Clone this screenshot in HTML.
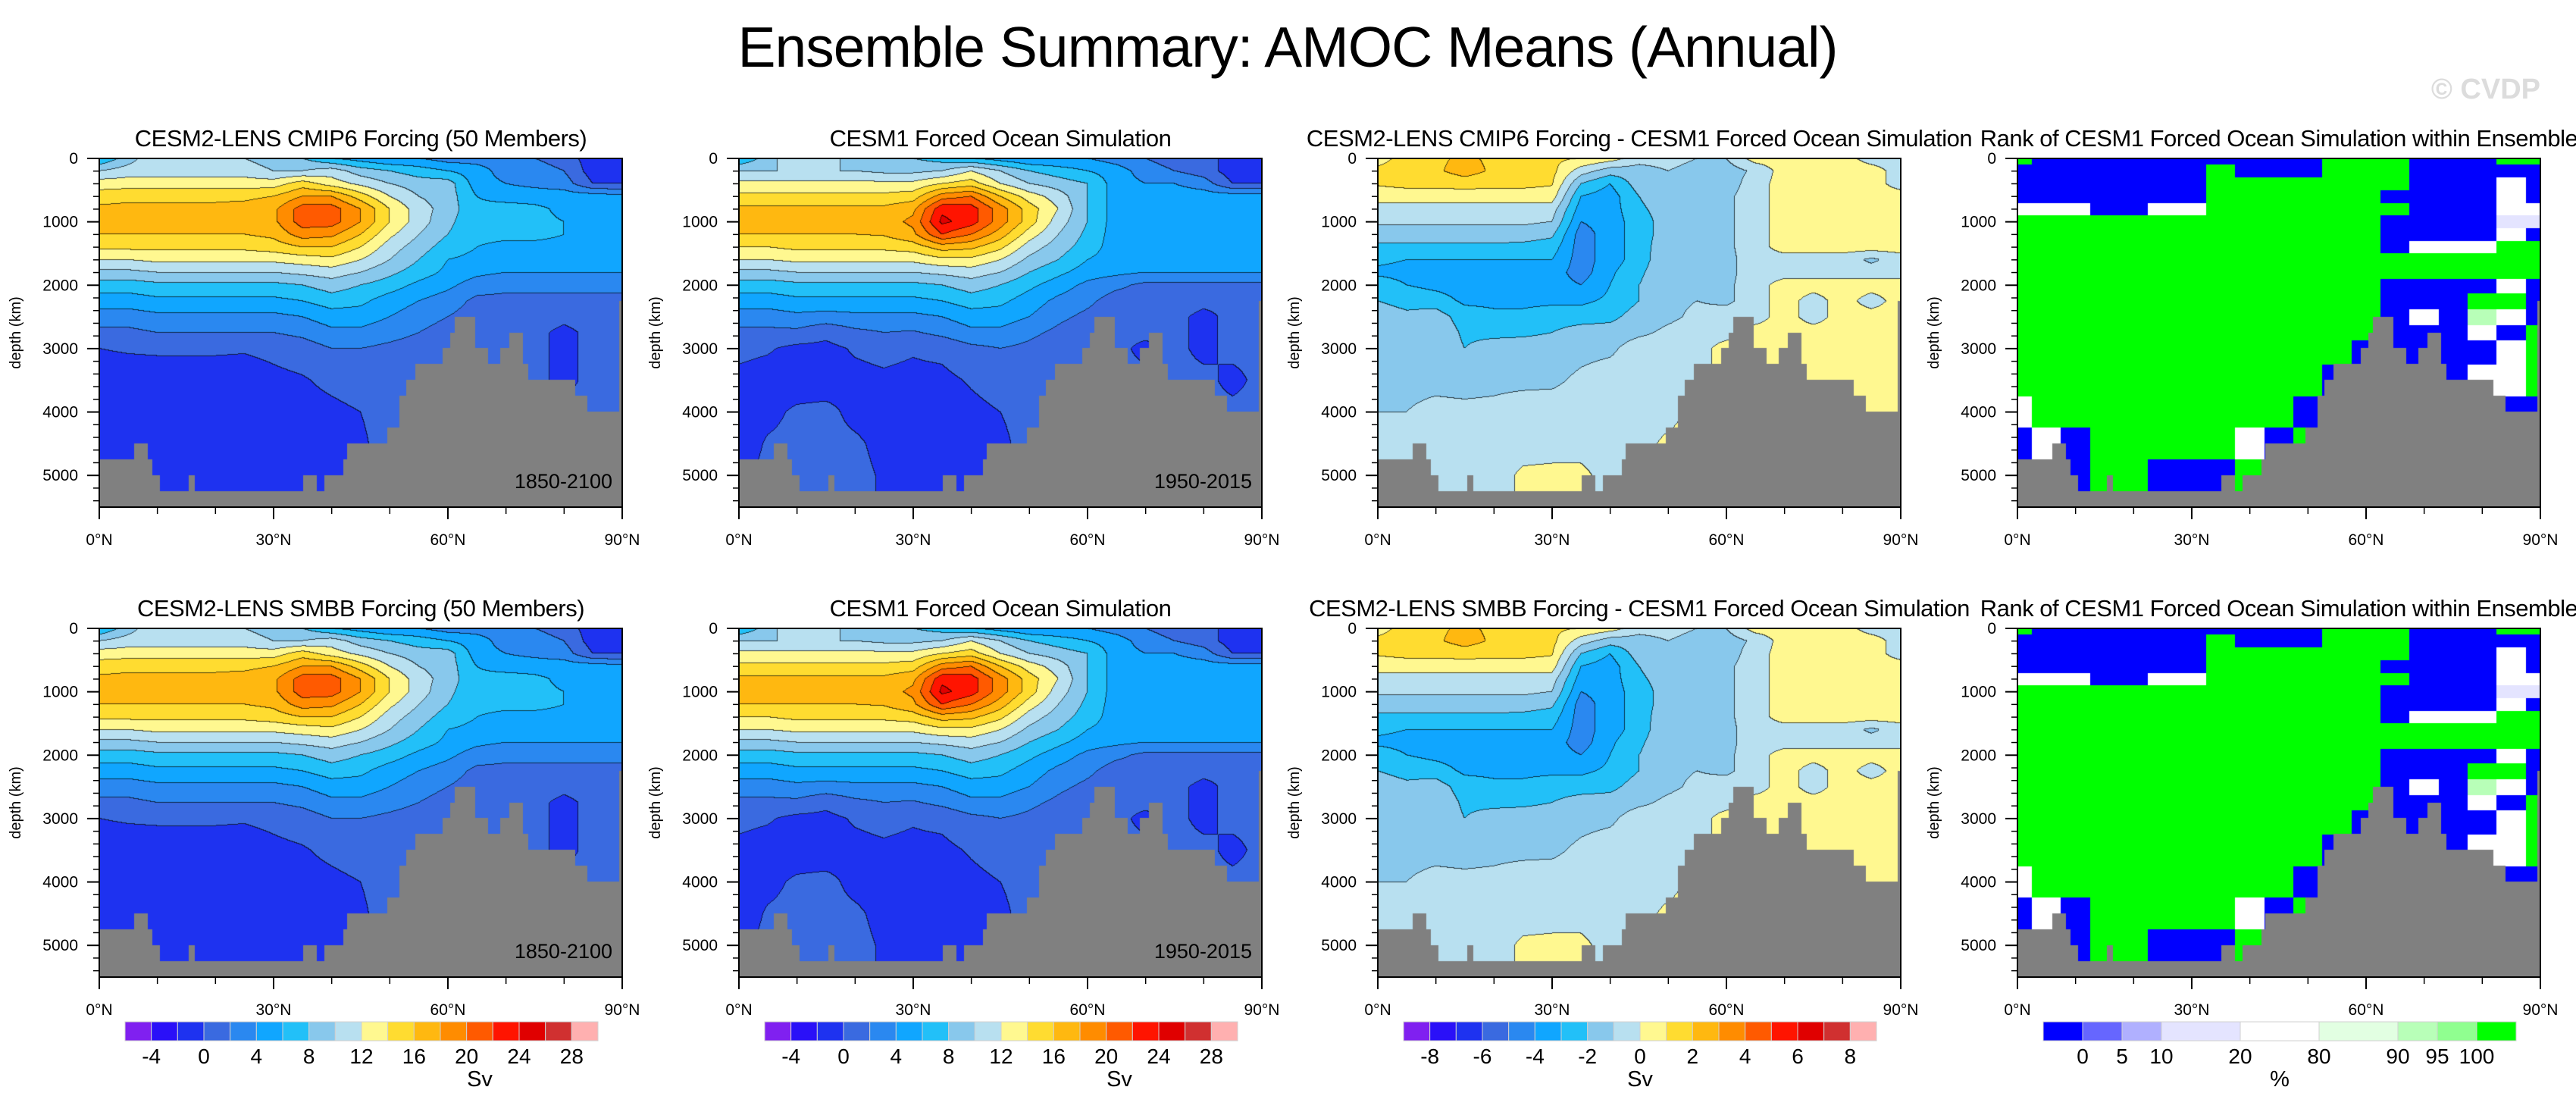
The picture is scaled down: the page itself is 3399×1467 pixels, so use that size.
<!DOCTYPE html>
<html>
<head>
<meta charset="utf-8">
<style>
html,body{margin:0;padding:0;background:#fff;}
#page{position:relative;width:3399px;height:1467px;overflow:hidden;background:#fff;font-family:"Liberation Sans",sans-serif;}
canvas{position:absolute;}
#overlay{position:absolute;left:0;top:0;}
#overlay text{font-family:"Liberation Sans",sans-serif;fill:#000;}
</style>
</head>
<body>
<div id="page">
<svg id="overlay" width="3399" height="1467">
<text x="1699" y="88" font-size="75" text-anchor="middle" letter-spacing="-1">Ensemble Summary: AMOC Means (Annual)</text>
<text x="3352" y="130" font-size="38" font-weight="bold" style="fill:#dcdcdc" text-anchor="end">© CVDP</text>

<text x="476" y="193" font-size="31" text-anchor="middle" letter-spacing="-0.5">CESM2-LENS CMIP6 Forcing (50 Members)</text>
<text x="1320" y="193" font-size="31" text-anchor="middle" letter-spacing="-0.5">CESM1 Forced Ocean Simulation</text>
<text x="3007" y="193" font-size="31" text-anchor="middle" letter-spacing="-0.5">Rank of CESM1 Forced Ocean Simulation within Ensemble</text>
<text x="2163" y="193" font-size="31" text-anchor="middle" letter-spacing="-0.5">CESM2-LENS CMIP6 Forcing - CESM1 Forced Ocean Simulation</text>

<text x="476" y="813" font-size="31" text-anchor="middle" letter-spacing="-0.5">CESM2-LENS SMBB Forcing (50 Members)</text>
<text x="1320" y="813" font-size="31" text-anchor="middle" letter-spacing="-0.5">CESM1 Forced Ocean Simulation</text>
<text x="3007" y="813" font-size="31" text-anchor="middle" letter-spacing="-0.5">Rank of CESM1 Forced Ocean Simulation within Ensemble</text>
<text x="2163" y="813" font-size="31" text-anchor="middle" letter-spacing="-0.5">CESM2-LENS SMBB Forcing - CESM1 Forced Ocean Simulation</text>

<text x="808" y="644" font-size="27" text-anchor="end">1850-2100</text>
<text x="1652" y="644" font-size="27" text-anchor="end">1950-2015</text>
<text x="808" y="1264" font-size="27" text-anchor="end">1850-2100</text>
<text x="1652" y="1264" font-size="27" text-anchor="end">1950-2015</text>

<text x="633" y="1433" font-size="29" text-anchor="middle">Sv</text>
<text x="1477" y="1433" font-size="29" text-anchor="middle">Sv</text>
<text x="2164" y="1433" font-size="29" text-anchor="middle">Sv</text>
<text x="3008" y="1433" font-size="29" text-anchor="middle">%</text>
</svg>
</div>
<script>
// ---------- data ----------
const lats = [0,5,10,15,20,25,30,35,40,45,50,55,60,65,70,75,80,85,90];
const depths = [0,200,400,600,800,1000,1200,1400,1600,1800,2000,2250,2500,2750,3000,3500,4000,4500,5000,5500];

const cmip6Mean = [
[6,9,12,11,10,10,9,8,6,5,4,4,3,3,3,2,1,-1,-1],
[10,11,11,11,11,11,10,10,11,9,8,7,6,5,3,3,2,-1,-1],
[13,13,13,13,13,13,13,15,13,11.5,10,9,9,5,4,3.5,3,0,0],
[15,15.5,15.5,15.5,15.5,15.5,16,18,18,15,12,10,9,6,5,5,5,5,4.5],
[16.5,16.5,16.5,16.5,16.5,16.8,17.5,21,21,18,14,11,9,6.5,7,6.5,5.5,5,5],
[17,17,17,17,17,17,17.5,21,21,18,14,11,8.5,6.5,7,6.5,6,5,5],
[16,16,16,16,16,16,16.5,19,18.5,16,12.5,10,8,6.5,6.5,6.5,6,5,5],
[14.5,14.5,14.5,14.5,14.5,14.5,15,16,16,14,11,9,7,6,5.5,5.5,5.5,5,5],
[12,12,12.5,12.5,12.5,12.5,12.5,13,13.5,12,10,8,6,5.5,5,5,5,5,5],
[9.5,9.5,10,10,10,10,10,10.5,11,10,8.5,7,5.5,4.5,4,4,4,4,4],
[7,7,7.5,7.5,7.5,7.5,7.5,8,9,8,7,5.5,4.5,3,2.5,2.5,2.5,2.5,2.5],
[5,5,5.5,5.5,5.5,5.5,5.5,6,7,6.5,5,4,3,1.5,1.5,1.5,1.5,1.5,1.5],
[3,3,3.5,3.5,3.5,3.5,3.5,4,5,5,4,3,2,1,1,1,0.5,1,1],
[1.5,1.5,2,2,2,2,2,2.5,3.5,3.5,2.8,2,1,0.5,0.5,0.5,-0.5,0.5,1],
[0,0.2,0.3,0.3,0.3,0.2,0.5,1,2,2,1.5,1,0.5,0.2,0.2,0.5,-0.5,0.5,0.5],
[-1,-1,-1,-1,-1,-1,-0.5,-0.2,0.5,1,0.8,0.5,0.2,0.5,0.5,0.5,-0.5,0.5,0.5],
[-1.2,-1.2,-1.2,-1.2,-1.2,-1.2,-1,-0.8,-0.5,0,0.5,0.5,0.5,0.5,0.5,0.5,0.5,0.5,0.5],
[-1,-1,-1,-1,-1,-1,-1,-1,-0.8,-0.2,0.5,0.5,0.5,0.5,0.5,0.5,0.5,0.5,0.5],
[-0.5,0.5,-0.5,-1,-0.5,-1,-1,-1,-0.5,0.5,0.5,0.5,0.5,0.5,0.5,0.5,0.5,0.5,0.5],
[-0.5,0.5,-0.5,-1,-0.5,-1,-1,-1,-0.5,0.5,0.5,0.5,0.5,0.5,0.5,0.5,0.5,0.5,0.5]
];

const cesm1Mean = [
[6,9,12,11,9,9,8,7,6,5,4,4,4,3,2,1,1,-1,-1],
[10,10,10,10,10,9.5,9.5,10,12,10,8,7,6,5,3,2,1,-1,-1],
[12.5,12.5,12.5,12.5,12.5,12.5,12.5,14,15,12,10,9,8,5,4,4,3,0,0],
[14.5,14.5,14.5,14.5,14.5,14.5,15,19,20,16,13,11,8,5,5,5,5,5,5],
[16.5,16.5,16.5,16.5,16.5,16.5,17.5,23.5,23,19,15,12,8,5,5,5,5,5,5],
[17,17,17,17,17,17,18.5,24.5,23,19,15,11,8,5,5,5.5,5.5,5,5],
[16,16,16,16,16,16.2,17.5,22,20,17,13,10,7.5,5,5,5,5,5,5],
[14,14,14.5,14.5,14.5,14.5,15,17,16.5,14.5,11,9,7,5,5,5,5,5,5],
[12,12,12.5,12.5,12.5,12.5,12.5,13.5,13.5,12,9.5,8,6,5,5,5,5,5,5],
[9.5,9.5,10,10,10,10,10,10.5,11,10,8,6.5,5,4.5,4,4,4,4,4],
[7,7,7.5,7.5,7.5,7.5,7.5,8,9,8,6.5,5,3.5,2.5,1.5,1.5,1.5,1.5,1.5],
[5,5,5.5,5.5,5.5,5.5,5.5,6,7,6.5,5,3.5,2.5,1,1,1,0.5,0.5,1],
[3,3,3.5,3.2,3.5,3.5,3.5,4,5,5,4,2.5,1.5,0.5,0.5,0.5,-0.5,0.5,1],
[1.5,1.5,1.5,0.5,1.5,2,1.8,2.5,3.5,3.5,2.5,1.5,0.5,0.5,0.5,0.5,-0.5,0.5,1],
[0.5,0.2,-0.5,-0.5,0.2,0.5,0.2,0.5,1.5,2,1.5,0.8,0.3,0.5,-0.5,0.5,-0.5,0.5,0.5],
[-0.5,-0.8,-1,-1,-0.5,-0.3,-0.5,-0.5,0.2,0.8,0.8,0.5,0.5,0.5,0.5,0.5,0.5,-0.5,0.5],
[-1,-0.5,0.3,0.5,-0.5,-0.8,-1,-1,-0.5,0,0.5,0.5,0.5,0.5,0.5,0.5,0.5,0.5,0.5],
[-1,0.2,0.5,0.5,0.3,-0.5,-1,-1,-0.8,-0.3,0.5,0.5,0.5,0.5,0.5,0.5,0.5,0.5,0.5],
[-0.5,0.5,0.5,0.5,0.5,-0.2,-0.8,-1,-0.5,0.5,0.5,0.5,0.5,0.5,0.5,0.5,0.5,0.5,0.5],
[-0.5,0.5,0.5,0.5,0.5,-0.2,-0.8,-1,-0.5,0.5,0.5,0.5,0.5,0.5,0.5,0.5,0.5,0.5,0.5]
];

const diffMean = [
[0.5,1.5,1.8,2.2,1.8,1.5,1.2,1,0.5,-0.5,-0.5,-1,-1,0.5,0.5,0.5,0.5,-0.5,-0.5],
[1.3,1.6,1.8,2.5,1.8,1.6,1.3,-0.5,-1.5,-1.5,-1,-1.5,-1.5,-0.8,0.5,0.5,0.5,0.5,-0.5],
[1.1,1.3,1.3,1.4,1.3,1.3,1.1,-2,-3,-1.5,-1.3,-1.5,-1.5,-0.5,0.5,0.5,0.5,0.5,-0.5],
[0.5,0.5,0.5,0.5,0.5,0.5,0.5,-3,-3.5,-2,-1.3,-1.2,-1.2,-0.5,0.5,0.5,0.5,0.5,0.5],
[-0.5,-0.5,-0.5,-0.5,-0.5,-0.5,-0.5,-3.5,-3.5,-2.2,-1.5,-1.5,-1.2,-0.5,0.5,0.5,0.5,0.5,0.5],
[-0.8,-0.8,-0.8,-0.8,-0.8,-0.8,-1,-4,-3.5,-2.5,-1.5,-1.2,-1.2,-0.5,0.5,0.5,0.5,0.5,0.5],
[-1.5,-1.5,-1.5,-1.5,-1.5,-1.5,-1.8,-4.5,-3.5,-2.5,-1.5,-1.3,-1.2,-0.5,0.5,0.5,0.5,0.5,0.5],
[-2.2,-2.2,-2.2,-2.2,-2.2,-2.3,-2.5,-4.5,-3.5,-2.5,-1.3,-1.3,-1.2,-0.5,0.5,0.5,0.5,0.5,0.5],
[-2.8,-3,-3,-3,-3,-3,-3,-4.5,-3.5,-2.5,-1.2,-1.2,-1.3,-0.5,-0.5,-0.5,-0.5,-1.2,-0.5],
[-3.2,-3.3,-3.3,-3.3,-3.3,-3.3,-3.5,-4.5,-3.2,-2.2,-1.2,-1.2,-1.3,-0.5,-0.5,-0.5,-0.5,-0.5,-0.5],
[-2.5,-3,-3.3,-3.5,-3.5,-3.5,-3.5,-4,-3,-2,-1.2,-1.2,-1.2,-0.5,0.5,0.5,0.5,0.5,0.5],
[-2,-2.3,-2.5,-3.2,-3.2,-3.2,-3.2,-3.2,-2.8,-2,-1.2,-1,-1.2,-0.5,0.5,-0.5,0.5,-0.5,0.5],
[-1.5,-1.8,-1.5,-2.5,-2.8,-2.8,-2.5,-2.5,-2.3,-1.5,-1.2,-0.8,-0.5,-0.5,0.5,-0.5,0.5,0.5,0.5],
[-1.5,-1.5,-1.2,-2.2,-2.3,-2.2,-2,-1.5,-1.5,-1.2,-0.8,-0.5,-0.5,0.5,0.5,0.5,0.5,0.5,0.5],
[-1.3,-1.3,-1.2,-2,-1.5,-1.5,-1.5,-1.3,-1.2,-0.5,-0.5,-0.5,0.5,0.5,0.5,0.5,0.5,0.5,0.5],
[-1.2,-1.2,-1.2,-1.3,-1.2,-1.2,-1.2,-0.8,-0.5,-0.5,-0.5,-0.5,0.5,0.5,0.5,0.5,0.5,0.5,0.5],
[-1,-1,-0.8,-0.8,-0.8,-0.6,-0.5,-0.5,-0.5,-0.5,-0.5,0.5,0.5,0.5,0.5,0.5,0.5,0.5,0.5],
[-0.5,-0.5,-0.5,-0.5,-0.5,-0.5,-0.5,-0.5,-0.5,-0.5,0.3,0.5,0.5,0.5,0.5,0.5,0.5,0.5,0.5],
[0.3,0.3,-0.3,-0.5,-0.5,0.2,0.3,0.3,-0.5,0.3,0.5,0.5,0.5,0.5,0.5,0.5,0.5,0.5,0.5],
[0.3,0.3,-0.3,-0.5,-0.5,0.2,0.3,0.3,-0.5,0.3,0.5,0.5,0.5,0.5,0.5,0.5,0.5,0.5,0.5]
];

// rank (%): -5 below all members, 105 above all, 50 mid, 92 light green, 15 light blue
const rankPct = [
[105,-5,-5,-5,-5,-5,-5,-5,-5,-5,-5,105,105,105,-5,-5,-5,105,105],
[-5,-5,-5,-5,-5,-5,-5,105,-5,-5,-5,105,105,105,-5,-5,-5,-5,-5],
[-5,-5,-5,-5,-5,-5,-5,105,105,105,105,105,105,105,-5,-5,-5,50,-5],
[-5,-5,-5,-5,-5,-5,-5,105,105,105,105,105,105,-5,-5,-5,-5,50,-5],
[50,50,50,-5,-5,50,50,105,105,105,105,105,105,105,-5,-5,-5,50,50],
[105,105,105,105,105,105,105,105,105,105,105,105,105,-5,-5,-5,-5,15,15],
[105,105,105,105,105,105,105,105,105,105,105,105,105,-5,-5,-5,-5,50,-5],
[105,105,105,105,105,105,105,105,105,105,105,105,105,-5,50,50,50,105,105],
[105,105,105,105,105,105,105,105,105,105,105,105,105,105,105,105,105,105,105],
[105,105,105,105,105,105,105,105,105,105,105,105,105,105,105,105,105,105,105],
[105,105,105,105,105,105,105,105,105,105,105,105,105,-5,-5,-5,-5,50,-5],
[105,105,105,105,105,105,105,105,105,105,105,105,105,-5,-5,-5,105,105,-5],
[105,105,105,105,105,105,105,105,105,105,105,105,105,-5,50,-5,92,50,-5],
[105,105,105,105,105,105,105,105,105,105,105,105,105,-5,-5,-5,50,-5,105],
[105,105,105,105,105,105,105,105,105,105,105,105,-5,-5,-5,-5,-5,50,105],
[105,105,105,105,105,105,105,105,105,105,105,-5,-5,-5,-5,-5,50,50,105],
[50,105,105,105,105,105,105,105,105,105,-5,-5,-5,-5,-5,-5,-5,-5,-5],
[-5,50,-5,105,105,105,105,105,50,-5,105,50,105,-5,-5,-5,-5,-5,-5],
[-5,-5,-5,105,105,-5,-5,-5,105,-5,-5,-5,-5,-5,-5,-5,-5,-5,-5],
[-5,-5,-5,105,105,-5,-5,-5,105,-5,-5,-5,-5,-5,-5,-5,-5,-5,-5]
];

const bathyEdges = [0,2.8,6,8.2,9.1,10.3,15.4,16.3,35.2,37.3,38.8,42.1,42.7,49.6,51.7,52.9,54.4,59.2,60.4,61.3,64.6,66.7,69,70.6,72.7,73.7,81.7,83.8,89.6,90];
const bathyDepth = [4750,4750,4500,4750,5000,5250,5000,5250,5000,5250,5000,4750,4500,4250,3750,3500,3250,3000,2750,2500,3000,3250,3000,2750,3250,3500,3750,4000,2250];
const floorDepth = 5250;

const amocLevels = [-4,-2,0,2,4,6,8,10,12,14,16,18,20,22,24,26,28];
const diffLevels = [-8,-7,-6,-5,-4,-3,-2,-1,0,1,2,3,4,5,6,7,8];
const rankLevels = [0,5,10,20,80,90,95,100];
const amocColors = ["#8020F0","#2A10F8","#1E32F0","#3A6AE0","#2A88F0","#10A6FF","#22C0F8","#88C8EC","#B8E0F0","#FFF890","#FFDC30","#FFB810","#FF8C00","#FF5A00","#FF1400","#E00000","#D03030","#FFB0B0"];
const rankColors = ["#0000FF","#6666FF","#B0B0FF","#E4E4FF","#FFFFFF","#E2FFE2","#B8FFB8","#90FF90","#00FF00"];
const rankBoxWeights = [1,1,1,2,2,2,1,1,1];

const amocCbLabels = ["-4","0","4","8","12","16","20","24","28"];
const diffCbLabels = ["-8","-6","-4","-2","0","2","4","6","8"];
const rankCbLabels = ["0","5","10","20","80","90","95","100"];
const yTickValues = [0,1000,2000,3000,4000,5000];
const yTickLabels = ["0","1000","2000","3000","4000","5000"];
const xTickValues = [0,30,60,90];
const xTickLabels = ["0°N","30°N","60°N","90°N"];

// ---------- layout ----------
const PL = [131,975,1818,2662];
const PT = [209,829];
const PW = 690, PH = 460, DMAX = 5500, LMAX = 90;
const NS = "http://www.w3.org/2000/svg";
const svg = document.getElementById('overlay');
const page = document.getElementById('page');

function xLocal(lat){return lat/LMAX*PW;}
function yLocal(d){return d/DMAX*PH;}
function hexRgb(h){return [parseInt(h.substr(1,2),16),parseInt(h.substr(3,2),16),parseInt(h.substr(5,2),16)];}
function binOf(v,levels){let b=0;while(b<levels.length && v>=levels[b])b++;return b;}

function sample(grid,lat,d,nearest){
  let j=0; while(j<depths.length-2 && d>depths[j+1]) j++;
  let t=(d-depths[j])/(depths[j+1]-depths[j]); t=Math.max(0,Math.min(1,t));
  let fi=lat/5; let i=Math.min(lats.length-2,Math.floor(fi)); let s=fi-i;
  if(nearest){
    const jj = t<0.5?j:j+1; const ii = s<0.5?i:i+1;
    return grid[jj][ii];
  }
  const a=grid[j][i]*(1-s)+grid[j][i+1]*s;
  const b=grid[j+1][i]*(1-s)+grid[j+1][i+1]*s;
  return a*(1-t)+b*t;
}

function renderPanel(grid,levels,colors,nearest,lines,col,row,name){
  const c=document.createElement('canvas');
  c.width=PW; c.height=PH;
  c.style.left=PL[col]+'px'; c.style.top=PT[row]+'px';
  
  
  page.insertBefore(c, svg);
  const ctx=c.getContext('2d');
  const img=ctx.createImageData(PW,PH);
  const bins=new Int16Array(PW*PH);
  const rgb=colors.map(hexRgb);
  for(let y=0;y<PH;y++){
    const d=(y+0.5)/PH*DMAX;
    for(let x=0;x<PW;x++){
      const lat=(x+0.5)/PW*LMAX;
      bins[y*PW+x]=binOf(sample(grid,lat,d,nearest),levels);
    }
  }
  for(let y=0;y<PH;y++){
    for(let x=0;x<PW;x++){
      const k=y*PW+x; const b=bins[k]; let c3=rgb[b];
      let f=1;
      if(lines){
        if((x<PW-1 && bins[k+1]!==b)||(y<PH-1 && bins[k+PW]!==b)) f=0.3;
      }
      img.data[k*4]=c3[0]*f; img.data[k*4+1]=c3[1]*f; img.data[k*4+2]=c3[2]*f; img.data[k*4+3]=255;
    }
  }
  ctx.putImageData(img,0,0);
  ctx.fillStyle="#808080";
  for(let s=0;s<bathyDepth.length;s++){
    const x0=xLocal(bathyEdges[s]), x1=xLocal(bathyEdges[s+1]);
    const y0=yLocal(bathyDepth[s]);
    ctx.fillRect(Math.floor(x0),Math.floor(y0),Math.ceil(x1-x0)+1,PH-Math.floor(y0));
  }
  ctx.fillRect(0,Math.floor(yLocal(floorDepth)),PW,PH);
}

function mk(tag,attrs,parent){const e=document.createElementNS(NS,tag);for(const k in attrs)e.setAttribute(k,attrs[k]);(parent||svg).appendChild(e);return e;}

function drawAxes(col,row){
  const L=PL[col],T=PT[row],B=T+PH,R=L+PW;
  const g=mk('g',{});
  
  
  const fr=mk('rect',{x:L,y:T,width:PW,height:PH,fill:'none',stroke:'#000','stroke-width':2},g);
  
  
  for(let d=0;d<=5400;d+=200){
    const major=d%1000===0; const y=T+yLocal(d);
    const t=mk('line',{x1:L-(major?16:8),x2:L,y1:y,y2:y,stroke:'#000','stroke-width':major?2:1.5},g);
    
    
  }
  yTickValues.forEach((v,i)=>{
    const tx=mk('text',{x:L-28,y:T+yLocal(v)+7,'font-size':21,'text-anchor':'end'},g);
    tx.textContent=yTickLabels[i];
    
    
  });
  for(let lat=0;lat<=90;lat+=10){
    const major=lat%30===0; const x=L+xLocal(lat);
    const t=mk('line',{x1:x,x2:x,y1:B,y2:B+(major?16:9),stroke:'#000','stroke-width':major?2:1.5},g);
    
    
  }
  xTickValues.forEach((v,i)=>{
    const tx=mk('text',{x:L+xLocal(v),y:B+50,'font-size':21,'text-anchor':'middle'},g);
    tx.textContent=xTickLabels[i];
    
    
  });
  const cy=T+PH/2, cx=L-104;
  const yl=mk('text',{x:cx,y:cy,'font-size':20,'text-anchor':'middle',transform:'rotate(-90 '+cx+' '+cy+')'},g);
  yl.textContent='depth (km)';
  
  
}

function drawColorbar(col,colors,weights,labels,labelBoundaries,name){
  const x0=PL[col]+34, w=624, y0=1348, h=25;
  const tot=weights.reduce((a,b)=>a+b,0);
  const g=mk('g',{});
  
  
  const edges=[x0]; let acc=0;
  weights.forEach(wt=>{acc+=wt;edges.push(x0+acc/tot*w);});
  colors.forEach((c,i)=>{
    const r=mk('rect',{x:edges[i],y:y0,width:edges[i+1]-edges[i],height:h,fill:c,stroke:'#d0d0d0','stroke-width':1},g);
    
    
  });
  labels.forEach((lab,i)=>{
    const t=mk('text',{x:edges[labelBoundaries[i]],y:1403,'font-size':28,'text-anchor':'middle'},g);
    t.textContent=lab;
    
    
  });
}

const evenW = amocColors.map(()=>1);
const oddB = [1,3,5,7,9,11,13,15,17];
const rankB = [1,2,3,4,5,6,7,8];

for(let row=0;row<2;row++){
  renderPanel(cmip6Mean,amocLevels,amocColors,false,true,0,row,'amoc-ensemble-mean-'+row);
  renderPanel(cesm1Mean,amocLevels,amocColors,false,true,1,row,'amoc-cesm1-'+row);
  renderPanel(diffMean,diffLevels,amocColors,false,true,2,row,'amoc-difference-'+row);
  renderPanel(rankPct,rankLevels,rankColors,true,false,3,row,'amoc-rank-'+row);
  for(let col=0;col<4;col++) drawAxes(col,row);
}
drawColorbar(0,amocColors,evenW,amocCbLabels,oddB,'colorbar-ensemble');
drawColorbar(1,amocColors,evenW,amocCbLabels,oddB,'colorbar-cesm1');
drawColorbar(2,amocColors,evenW,diffCbLabels,oddB,'colorbar-difference');
drawColorbar(3,rankColors,rankBoxWeights,rankCbLabels,rankB,'colorbar-rank');
</script>
</body>
</html>
